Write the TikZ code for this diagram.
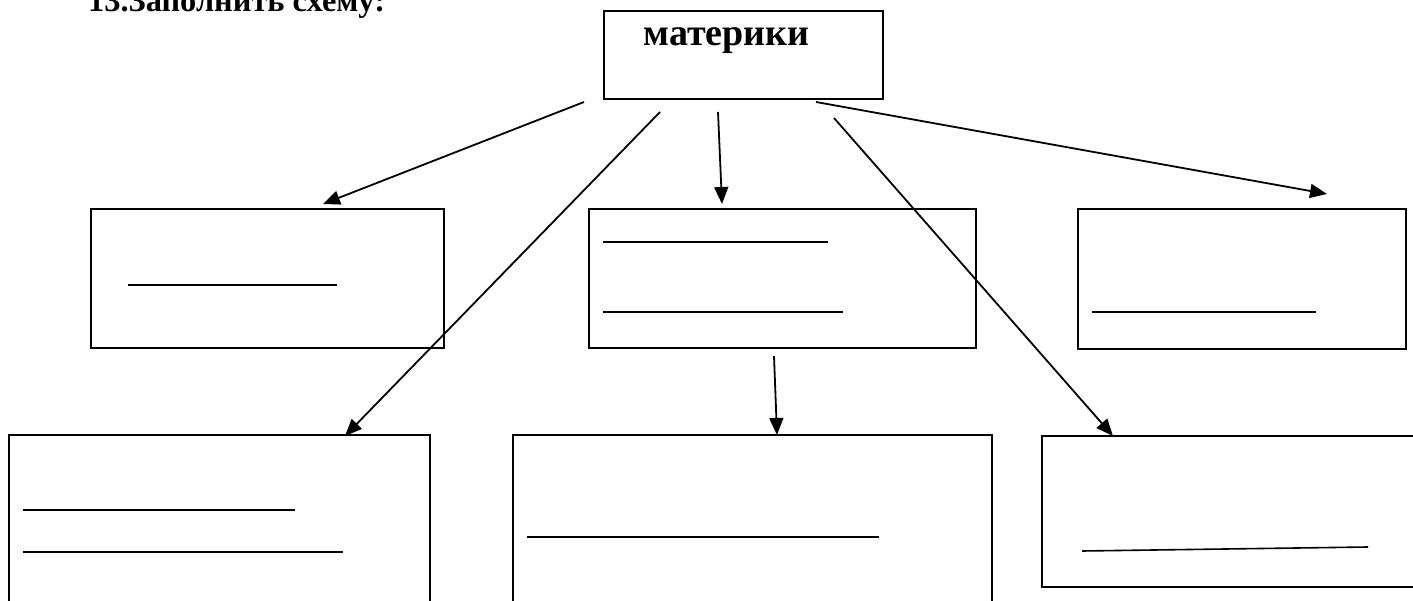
\documentclass[tikz,border=0pt]{standalone}
\usepackage{fontspec}
\setmainfont{Liberation Serif}
\usetikzlibrary{arrows.meta}
\begin{document}
\begin{tikzpicture}[x=1pt,y=-1pt,
  boxnode/.style={draw,line width=2.8pt,rectangle,inner sep=0pt,outer sep=0pt,anchor=north west},
  conn/.style={line width=1.8pt,-{Triangle[length=17pt,width=14pt]}},
  blank/.style={line width=1.6pt},
  lbl/.style={inner sep=0pt,anchor=base,font=\bfseries}]
\useasboundingbox (0,0) rectangle (1413,601);
\fill[white] (0,0) rectangle (1413,601);
% title
\node[lbl,anchor=base west] (title) at (88,12) {\fontsize{32.4}{36}\selectfont 13.Заполнить схему:};
% boxes
\node[boxnode,minimum width=279pt,minimum height=88pt] (top) at (604,11) {};
\node[lbl] (toplbl) at (726.5,46) {\fontsize{38}{42}\selectfont материки};
\node[boxnode,minimum width=353pt,minimum height=139pt] (A) at (91,209) {};
\node[boxnode,minimum width=387pt,minimum height=139pt] (B) at (589,209) {};
\node[boxnode,minimum width=328pt,minimum height=140pt] (C) at (1078,209) {};
\node[boxnode,minimum width=421pt,minimum height=190pt] (D) at (9,435) {};
\node[boxnode,minimum width=479pt,minimum height=190pt] (E) at (513,435) {};
\node[boxnode,minimum width=390pt,minimum height=151pt] (F) at (1042,436) {};
% blank lines
\draw[blank] (128,285) -- (337,285);
\draw[blank] (603,242) -- (828,242);
\draw[blank] (603,312) -- (843,312);
\draw[blank] (1092,312) -- (1316,312);
\draw[blank] (23,510) -- (295,510);
\draw[blank] (23,552) -- (343,552);
\draw[blank] (527,537) -- (879,537);
\draw[blank] (1082,551) -- (1368,547);
% connector end points
\coordinate (s1) at (584,102); \coordinate (e1) at (323,204);
\coordinate (s2) at (660,112); \coordinate (e2) at (345,436);
\coordinate (s3) at (718,112); \coordinate (e3) at (722,204);
\coordinate (s4) at (816,102); \coordinate (e4) at (1327,194);
\coordinate (s5) at (834,118); \coordinate (e5) at (1113,436);
\coordinate (s6) at (774,356); \coordinate (e6) at (777,435);
\draw[conn] (s1) -- (e1);
\draw[conn] (s2) -- (e2);
\draw[conn] (s3) -- (e3);
\draw[conn] (s4) -- (e4);
\draw[conn] (s5) -- (e5);
\draw[conn] (s6) -- (e6);
\end{tikzpicture}
\end{document}
